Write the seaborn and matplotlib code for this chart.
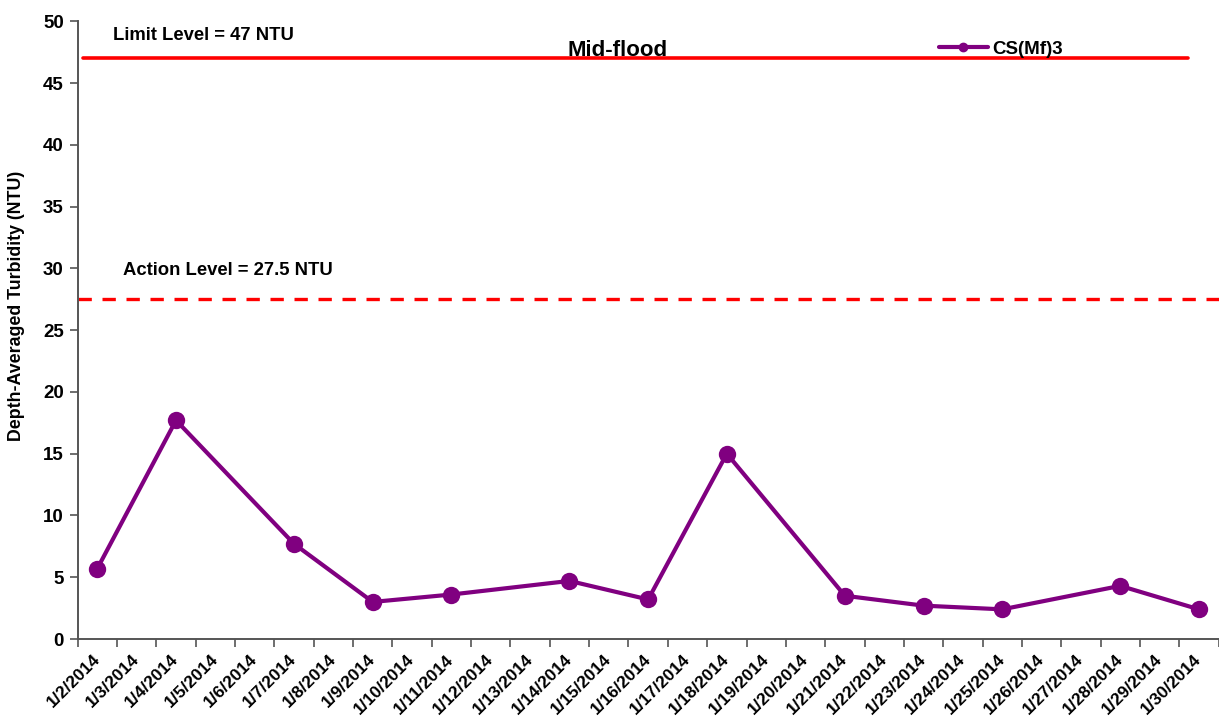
import matplotlib
matplotlib.use("Agg")
import matplotlib.pyplot as plt
from matplotlib.lines import Line2D
import numpy as np
import pandas as pd
import seaborn as sns

# Calendar days shown on the category axis
axis_dates = [
    "1/2/2014", "1/3/2014", "1/4/2014", "1/5/2014", "1/6/2014", "1/7/2014",
    "1/8/2014", "1/9/2014", "1/10/2014", "1/11/2014", "1/12/2014", "1/13/2014",
    "1/14/2014", "1/15/2014", "1/16/2014", "1/17/2014", "1/18/2014", "1/19/2014",
    "1/20/2014", "1/21/2014", "1/22/2014", "1/23/2014", "1/24/2014", "1/25/2014",
    "1/26/2014", "1/27/2014", "1/28/2014", "1/29/2014", "1/30/2014",
]

# Monitoring days and depth-averaged turbidity (NTU) at the station
sample_dates = [
    "1/2/2014", "1/4/2014", "1/7/2014", "1/9/2014", "1/11/2014", "1/14/2014",
    "1/16/2014", "1/18/2014", "1/21/2014", "1/23/2014", "1/25/2014",
    "1/28/2014", "1/30/2014",
]
turbidity = [5.7, 17.7, 7.7, 3.0, 3.6, 4.7, 3.2, 15.0, 3.5, 2.7, 2.4, 4.3, 2.4]

station = "CS(Mf)3"
limit_level = 47
action_level = 27.5

sns.set_style("ticks")
plt.rcParams["font.family"] = ["Liberation Sans", "DejaVu Sans"]
plt.rcParams["font.weight"] = "bold"
plt.rcParams["text.color"] = "black"
plt.rcParams["xtick.labelcolor"] = "black"
plt.rcParams["ytick.labelcolor"] = "black"
plt.rcParams["axes.labelcolor"] = "black"

fig = plt.figure(figsize=(12.19, 7.2), dpi=100)
ax = fig.add_axes([0.0637, 0.1125, 0.936, 0.858])

df = pd.DataFrame({
    "pos": [axis_dates.index(d) for d in sample_dates],
    "turbidity": turbidity,
})

purple = "#800080"
sns.lineplot(data=df, x="pos", y="turbidity", ax=ax, color=purple,
             linewidth=3, marker="o", markersize=12.5, markeredgewidth=0,
             legend=False)

# Limit and action levels
ax.axhline(limit_level, xmin=0.005, xmax=0.973, color="#ff0000", lw=2.6)
ax.axhline(action_level, xmin=0.0, xmax=1.0, color="#ff0000", lw=2.4,
           ls=(0, (4, 3.2)))
ax.text(0.4, limit_level + 1.85, f"Limit Level = {limit_level} NTU",
        fontsize=13.3, fontweight="bold", ha="left", va="center")
ax.text(0.65, action_level + 2.3, f"Action Level = {action_level} NTU",
        fontsize=13.3, fontweight="bold", ha="left", va="center")
ax.text(0.473, 0.953, "Mid-flood", transform=ax.transAxes, fontsize=16,
        fontweight="bold", ha="center", va="center")

ax.set_xlim(-0.5, len(axis_dates) - 0.5)
ax.set_ylim(0, 50)
ax.set_yticks(np.arange(0, 51, 5))

# Tick marks between categories, labels at category centres
ax.set_xticks(np.arange(-0.5, len(axis_dates), 1.0))
ax.set_xticklabels([])
ax.set_xticks(np.arange(len(axis_dates)), minor=True)
ax.set_xticklabels(axis_dates, minor=True, rotation=45, ha="right",
                   va="center", rotation_mode="anchor", fontsize=12.5,
                   fontweight="bold")
ax.tick_params(axis="x", which="major", length=6, width=1.2, color="#555555",
               direction="out")
ax.tick_params(axis="x", which="minor", length=0, pad=13)
ax.tick_params(axis="y", length=6, width=1.2, color="#555555",
               labelsize=13.5, pad=4)
for lab in ax.get_yticklabels():
    lab.set_fontweight("bold")

ax.set_xlabel("")
ax.set_ylabel("Depth-Averaged Turbidity (NTU)", fontsize=12.8,
              fontweight="bold")
ax.yaxis.set_label_coords(-0.046, 0.54)

for side in ("top", "right"):
    ax.spines[side].set_visible(False)
for side in ("left", "bottom"):
    ax.spines[side].set_color("#555555")
    ax.spines[side].set_linewidth(1.4)

handle = Line2D([], [], color=purple, lw=3, marker="o", markersize=6)
ax.legend([handle], [station], loc="center left",
          bbox_to_anchor=(0.74, 0.955), frameon=False,
          prop={"weight": "bold", "size": 13.5}, handlelength=2.6,
          handletextpad=0.25)

fig.savefig("out.png", dpi=100)
